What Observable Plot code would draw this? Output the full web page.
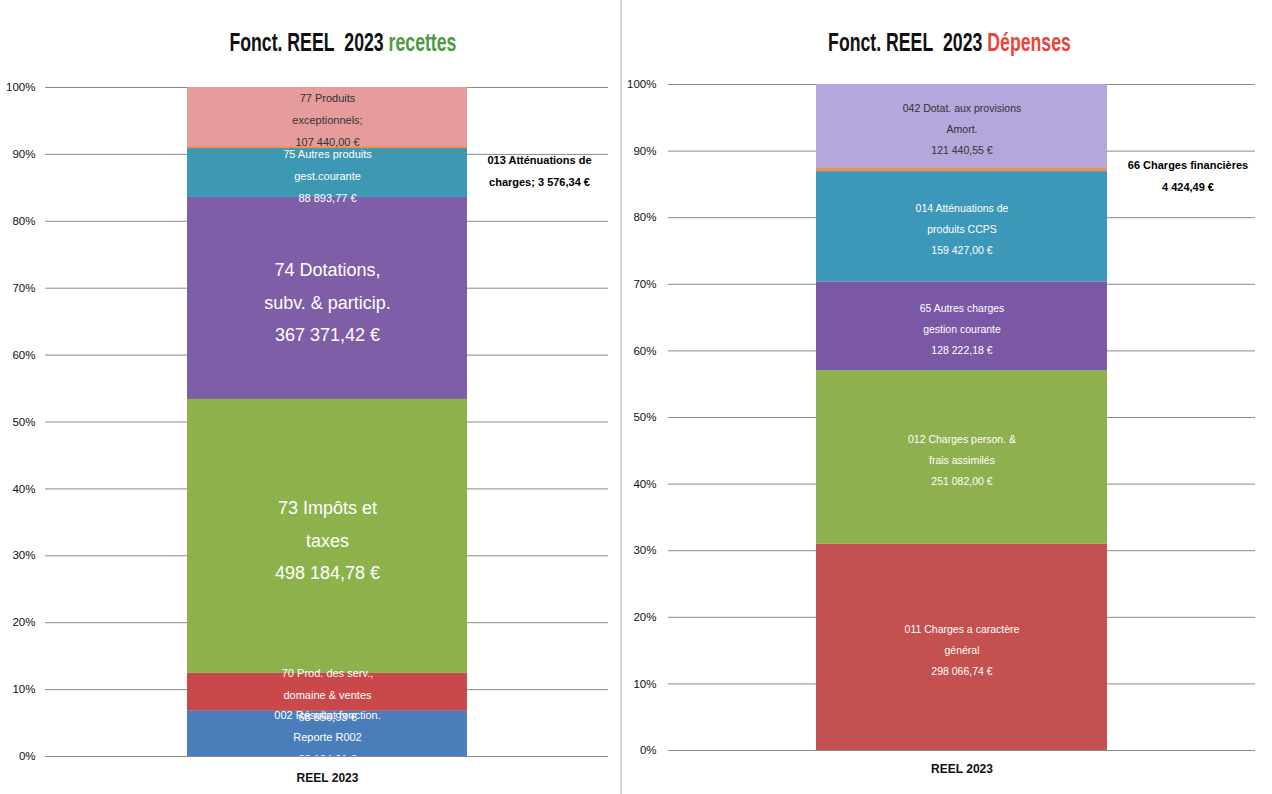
<!DOCTYPE html>
<html><head><meta charset="utf-8">
<script src="https://cdn.jsdelivr.net/npm/d3@7"></script>
<script src="https://cdn.jsdelivr.net/npm/@observablehq/plot@0.6"></script>
<style>
body{margin:0;background:#fff;font-family:"Liberation Sans",sans-serif;}
#wrap{display:flex;width:1272px;height:794px;overflow:hidden}
.panel{position:relative;height:794px}
#right{border-left:2px solid #d6d6d6;box-sizing:border-box}
.title{height:70px;box-sizing:border-box;padding-top:27px;text-align:center;font-weight:bold;font-size:26px;line-height:30px;color:#111}
.title span.in{display:inline-block;transform:scaleX(0.68);white-space:nowrap}
svg{display:block}
</style></head><body>
<div id="wrap"><div class="panel" id="left"></div><div class="panel" id="right"></div></div>
<script>
// ---- data ----
const category = "REEL 2023";
const recettesCodes = ["002", "70", "73", "74", "75", "013", "77"];
const recettesLabels = [
  "002 Résultat fonction.\nReporte R002\n{v}",
  "70 Prod. des serv.,\ndomaine & ventes\n{v}",
  "73 Impôts et\ntaxes\n{v}",
  "74 Dotations,\nsubv. & particip.\n{v}",
  "75 Autres produits\ngest.courante\n{v}",
  "013 Atténuations de\ncharges; {v}",
  "77 Produits\nexceptionnels;\n{v}"
];
const recettesValues = [82184.01, 68856.93, 498184.78, 367371.42, 88893.77, 3576.34, 107440.00];

const depensesCodes = ["011", "012", "65", "014", "66", "042"];
const depensesLabels = [
  "011 Charges a caractère\ngénéral\n{v}",
  "012 Charges person. &\nfrais assimilés\n{v}",
  "65 Autres charges\ngestion courante\n{v}",
  "014 Atténuations de\nproduits CCPS\n{v}",
  "66 Charges financières\n{v}",
  "042 Dotat. aux provisions\nAmort.\n{v}"
];
const depensesValues = [298066.74, 251082.00, 128222.18, 159427.00, 4424.49, 121440.55];

const yTicks = [0, 0.1, 0.2, 0.3, 0.4, 0.5, 0.6, 0.7, 0.8, 0.9, 1];

// ---- styles ----
const recettesColors = ["#4a7ebb", "#c9484a", "#8db24c", "#7e5ea6", "#3d98b3", "#f08c4c", "#e69c9c"];
const recettesText = ["#fff", "#fff", "#fff", "#fff", "#fff", "#000", "#333"];
const depensesColors = ["#c4504f", "#8fb04f", "#7a58a5", "#3c98b8", "#f29050", "#b3a7db"];
const depensesText = ["#fff", "#fff", "#fff", "#fff", "#000", "#333"];

const fr = d3.formatLocale({decimal: ",", thousands: "\u00a0", grouping: [3], currency: ["", "\u00a0€"]});
const money = fr.format(",.2f");

function rowsOf(codes, labels, values, colors, tcols) {
  return codes.map((c, i) => ({
    cat: category, code: c, value: values[i], color: colors[i], tc: tcols[i],
    text: labels[i].replace("{v}", money(values[i]) + "\u00a0€")
  }));
}

function panel(el, cfg) {
  const t = document.createElement("div");
  t.className = "title";
  t.style.paddingLeft = cfg.titleShift + "px";
  t.innerHTML = '<span class="in">Fonct. REEL&nbsp; 2023 <span style="color:' + cfg.accent + '">' + cfg.word + '</span></span>';
  el.appendChild(t);
  const rows = cfg.rows;
  const st = (o) => Plot.stackY({x: "cat", y: "value", offset: "normalize", ...o});
  const chart = Plot.plot({
    width: cfg.width, height: 724,
    marginLeft: cfg.ml, marginRight: cfg.mr, marginTop: cfg.mt, marginBottom: cfg.mb,
    style: {fontFamily: '"Liberation Sans",sans-serif', background: "#fff"},
    x: {domain: [category], padding: 0.336, label: null},
    y: {domain: [0, 1], label: null},
    color: {type: "identity"},
    marks: [
      Plot.ruleY(yTicks, {stroke: "#8a8a8a", strokeWidth: 1}),
      Plot.axisY(yTicks, {tickFormat: d3.format(".0%"), tickSize: 0, tickPadding: cfg.tp, fontSize: 11.5, label: null, fill: "#111"}),
      Plot.axisX({tickSize: 0, tickPadding: cfg.xtp, fontSize: 12, fontWeight: "bold", label: null, fill: "#111"}),
      Plot.barY(rows, st({fill: "color"})),
      Plot.text(rows, st({
        text: d => (cfg.big.includes(d.code) || cfg.outside.includes(d.code)) ? "" : d.text,
        fill: "tc", fontSize: cfg.fs, lineHeight: cfg.lh, clip: true
      })),
      Plot.text(rows, st({
        text: d => cfg.big.includes(d.code) ? d.text : "",
        fill: "tc", fontSize: 18, lineHeight: 1.8
      })),
      Plot.text(rows, st({
        text: d => cfg.outside.includes(d.code) ? d.text : "",
        fill: "#000", fontSize: 11, fontWeight: "bold", lineHeight: 2, dx: cfg.odx, dy: cfg.ody
      }))
    ]
  });
  el.appendChild(chart);
}

const L = document.getElementById("left");
L.style.width = "620px";
panel(L, {
  rows: rowsOf(recettesCodes, recettesLabels, recettesValues, recettesColors, recettesText),
  width: 620, ml: 45, mr: 12, mt: 17, mb: 38, tp: 10, xtp: 17,
  titleShift: 66, accent: "#4f9a44", word: "recettes",
  big: ["73", "74"], outside: ["013"], fs: 11, lh: 2, odx: 212, ody: 20
});
const R = document.getElementById("right");
R.style.width = "652px";
panel(R, {
  rows: rowsOf(depensesCodes, depensesLabels, depensesValues, depensesColors, depensesText),
  width: 650, ml: 46, mr: 17, mt: 14, mb: 44, tp: 12, xtp: 14,
  titleShift: 4, accent: "#e8453c", word: "Dépenses",
  big: [], outside: ["66"], fs: 10.5, lh: 2, odx: 226, ody: 3
});
</script>
</body></html>
